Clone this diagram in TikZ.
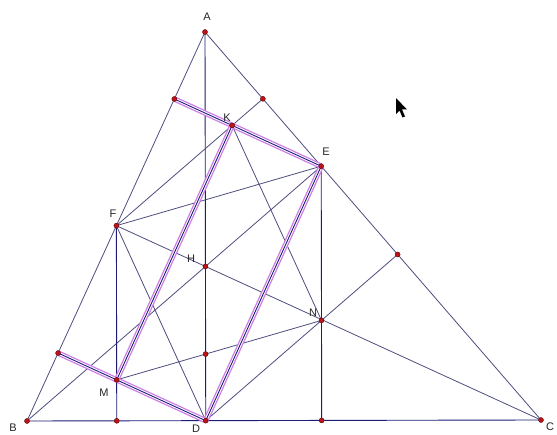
\documentclass[tikz,border=0pt]{standalone}
\usepackage{fontspec}
\setmainfont{Liberation Sans}
\usetikzlibrary{calc}
\definecolor{gline}{RGB}{78,78,128}
\definecolor{navyline}{RGB}{28,28,120}
\definecolor{hlpink}{RGB}{206,124,232}
\definecolor{ptred}{RGB}{190,20,25}
\definecolor{ptdark}{RGB}{90,0,0}
\begin{document}
\begin{tikzpicture}[x=1pt,y=-1pt,
  gl/.style={draw=gline,line width=0.8pt},
  nl/.style={draw=navyline,line width=0.9pt},
  hla/.style={draw=hlpink,line width=5.4pt},
  hlb/.style={draw=white,line width=2.8pt},
  hlc/.style={draw=navyline,line width=0.9pt},
  pt/.style={circle,inner sep=0pt,minimum size=5pt,fill=ptred,draw=ptdark,line width=0.4pt},
  lab/.style={inner sep=0pt,font=\fontsize{11}{13}\selectfont,text=black!85}]
\useasboundingbox (0,0) rectangle (557,435);
\clip (0,0) rectangle (557,435);
\fill[white] (0,0) rectangle (557,435);
% main points
\coordinate (A) at (205,32);
\coordinate (B) at (27,421);
\coordinate (C) at (541,420);
\coordinate (D) at ($(B)!(A)!(C)$);
\coordinate (E) at ($(A)!(B)!(C)$);
\coordinate (F) at ($(A)!(C)!(B)$);
\coordinate (H) at (intersection of B--E and C--F);
\coordinate (P) at ($(A)!(D)!(B)$);
\coordinate (Q) at ($(A)!(D)!(C)$);
\coordinate (R) at ($(A)!(E)!(B)$);
\coordinate (S) at ($(A)!(F)!(C)$);
\coordinate (F1) at ($(B)!(F)!(C)$);
\coordinate (E1) at ($(B)!(E)!(C)$);
\coordinate (K) at (intersection of R--E and F--S);
\coordinate (M) at (intersection of D--P and F--F1);
\coordinate (N) at (intersection of D--Q and E--E1);
\coordinate (T) at (intersection of M--N and A--D);
% ordinary lines
\draw[gl] (A) -- (B);
\draw[gl] (A) -- (C);
\draw[nl] (B) -- (C);
\draw[nl] (A) -- (D);
\draw[gl] (B) -- (E);
\draw[gl] (C) -- (F);
\draw[gl] (E) -- (F);
\draw[gl] (F) -- (D);
\draw[gl] (F) -- (S);
\draw[nl] (F) -- (F1);
\draw[nl] (E) -- (E1);
\draw[gl] (D) -- (Q);
\draw[gl] (K) -- (N);
\draw[gl] (M) -- (N);
% highlighted segments
\foreach \u/\v in {R/E, K/M, E/D, P/D}{
  \draw[hla] (\u) -- (\v);
  \draw[hlb] (\u) -- (\v);
  \draw[hlc] (\u) -- (\v);
}
% points
\foreach \p in {A,B,C,D,E,F,H,K,M,N,P,Q,R,S,F1,E1,T}{
  \node[pt] (d\p) at (\p) {};
}
% labels
\node[lab] (lA) at (207,17) {A};
\node[lab] (lE) at (326,152) {E};
\node[lab] (lK) at (227,118) {K};
\node[lab] (lF) at (113,214) {F};
\node[lab] (lH) at (191,259) {H};
\node[lab] (lN) at (313,313) {N};
\node[lab] (lM) at (104,393) {M};
\node[lab] (lB) at (13,428) {B};
\node[lab] (lD) at (196,429) {D};
\node[lab] (lC) at (550,427) {C};
% mouse cursor
\fill[black] (396,98) -- (396,114) -- (399.5,110.5) -- (402.5,117.5) -- (405,116.5) -- (402,109.5) -- (407,109.5) -- cycle;
\end{tikzpicture}
\end{document}
